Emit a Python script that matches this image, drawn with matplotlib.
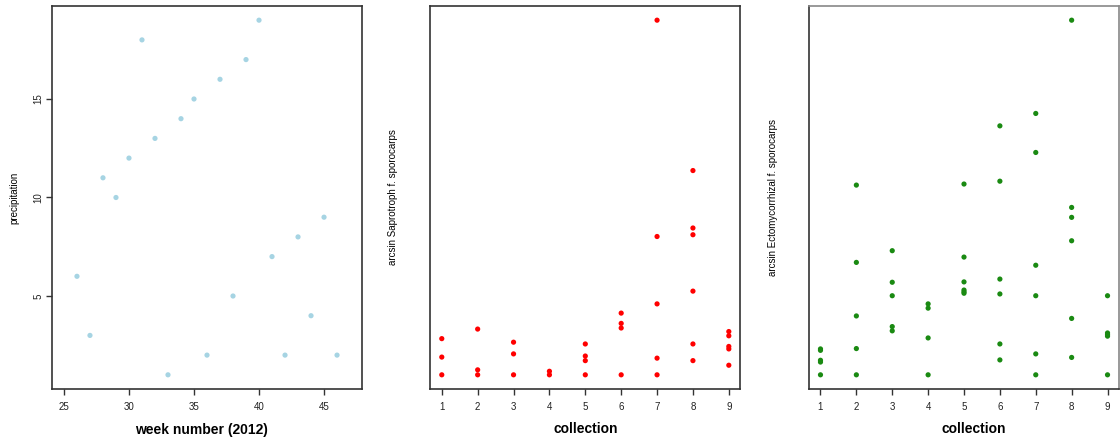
import matplotlib
matplotlib.use("Agg")
import matplotlib.pyplot as plt

plt.rcParams['font.family'] = ['Liberation Sans', 'DejaVu Sans']

# Panel 1: precipitation by week
weeks = [26, 27, 28, 29, 30, 31, 32, 33, 34, 35, 36, 37, 38, 39, 40, 41, 42, 43, 44, 45, 46]
precip = [6, 3, 11, 10, 12, 18, 13, 1, 14, 15, 2, 16, 5, 17, 19, 7, 2, 8, 4, 9, 2]

# Panel 2: arcsin saprotroph fraction (relative units, no y scale shown)
sap_collection = [1, 1, 1,
                  2, 2, 2,
                  3, 3, 3,
                  4, 4,
                  5, 5, 5, 5,
                  6, 6, 6, 6,
                  7, 7, 7, 7, 7,
                  8, 8, 8, 8, 8, 8,
                  9, 9, 9, 9, 9]
sap_value = [0.102, 0.050, 0.0,
             0.129, 0.014, 0.0,
             0.092, 0.059, 0.0,
             0.010, 0.0,
             0.087, 0.053, 0.040, 0.0,
             0.174, 0.145, 0.132, 0.0,
             1.000, 0.390, 0.200, 0.047, 0.0,
             0.576, 0.414, 0.395, 0.236, 0.087, 0.040,
             0.122, 0.110, 0.080, 0.073, 0.027]

# Panel 3: arcsin ectomycorrhizal fraction (relative units)
ecm_collection = [1, 1, 1, 1, 1,
                  2, 2, 2, 2, 2,
                  3, 3, 3, 3, 3,
                  4, 4, 4, 4,
                  5, 5, 5, 5, 5, 5,
                  6, 6, 6, 6, 6, 6,
                  7, 7, 7, 7, 7, 7,
                  8, 8, 8, 8, 8, 8,
                  9, 9, 9, 9, 9]
ecm_value = [0.073, 0.069, 0.041, 0.036, 0.0,
             0.535, 0.317, 0.166, 0.074, 0.0,
             0.350, 0.261, 0.223, 0.136, 0.124,
             0.200, 0.188, 0.104, 0.0,
             0.538, 0.332, 0.262, 0.239, 0.234, 0.230,
             0.702, 0.546, 0.270, 0.228, 0.087, 0.042,
             0.737, 0.627, 0.309, 0.223, 0.059, 0.0,
             1.000, 0.472, 0.444, 0.378, 0.159, 0.049,
             0.223, 0.118, 0.113, 0.109, 0.0]

fig = plt.figure(figsize=(11.2, 4.43), dpi=100)

bottom = 1 - 389 / 443
height = (389 - 6) / 443
lefts = [52 / 1120, 430.3 / 1120, 809 / 1120]
width = 310 / 1120

axes = [fig.add_axes([l, bottom, width, height]) for l in lefts]

def style(ax):
    for s in ax.spines.values():
        s.set_color('#333333')
        s.set_linewidth(1.2)
    ax.tick_params(direction='out', length=4, width=1, colors='#333333',
                   labelsize=7, labelcolor='#222222', pad=5)

def pad_lim(vals, frac=0.04):
    lo, hi = min(vals), max(vals)
    r = hi - lo
    return lo - frac * r, hi + frac * r

# Panel 1
ax = axes[0]
ax.scatter(weeks, precip, s=14, color='#a6d4e3', edgecolors='none')
ax.set_xlim(24.08, 47.92)
ax.set_ylim(*pad_lim(precip))
ax.set_xticks([25, 30, 35, 40, 45])
ax.set_yticks([5, 10, 15])
style(ax)
ax.tick_params(axis='y', pad=2)
for lab in ax.get_yticklabels():
    lab.set_rotation(90)
    lab.set_va('center')
ax.set_xlabel('week number (2012)', fontsize=10, fontweight='bold')
ax.xaxis.set_label_coords(0.482, -0.09)
ax.set_ylabel('precipitation', fontsize=7)
ax.yaxis.set_label_coords(-0.104, 0.5)

# Panel 2
ax = axes[1]
ax.scatter(sap_collection, sap_value, s=14, color='#ff0000', edgecolors='none')
ax.set_xlim(*pad_lim(sap_collection))
ax.set_ylim(*pad_lim(sap_value))
ax.set_xticks(range(1, 10))
ax.set_yticks([])
style(ax)
ax.set_xlabel('collection', fontsize=10, fontweight='bold')
ax.xaxis.set_label_coords(0.5, -0.085)
ax.set_ylabel('arcsin Saprotroph f. sporocarps', fontsize=7)
ax.yaxis.set_label_coords(-0.104, 0.5)

# Panel 3
ax = axes[2]
ax.scatter(ecm_collection, ecm_value, s=14, color='#1a8a12', edgecolors='none')
ax.set_xlim(*pad_lim(ecm_collection))
ax.set_ylim(*pad_lim(ecm_value))
ax.set_xticks(range(1, 10))
ax.set_yticks([])
style(ax)
ax.spines['right'].set_color('#888888')
ax.spines['top'].set_color('#888888')
ax.set_xlabel('collection', fontsize=10, fontweight='bold')
ax.xaxis.set_label_coords(0.531, -0.085)
ax.set_ylabel('arcsin Ectomycorrhizal f. sporocarps', fontsize=7)
ax.yaxis.set_label_coords(-0.1, 0.5)

fig.savefig('out.png', dpi=100)
